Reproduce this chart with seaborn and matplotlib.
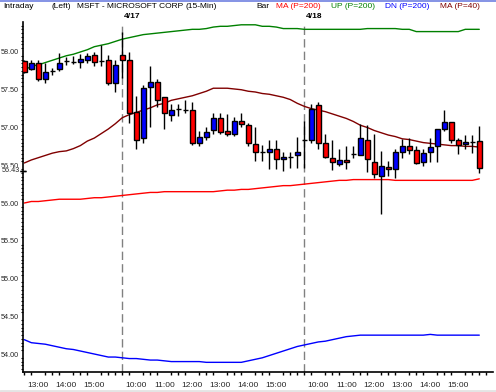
import numpy as np
import pandas as pd
import matplotlib
matplotlib.use("Agg")
import matplotlib.pyplot as plt
from matplotlib.lines import Line2D
from matplotlib.ticker import FixedLocator, MultipleLocator
import seaborn as sns

# 15-min bars: 4/16 12:30-15:45, 4/17 9:30-15:45, 4/18 9:30-15:45
opens = [57.88, 57.78, 57.85, 57.64, 57.75, 57.78, 57.88, 57.87, 57.87, 57.90, 57.96, 57.88, 57.90, 57.59,
         57.96, 57.89, 57.20, 56.86, 57.54, 57.60, 57.40, 57.17, 57.24, 57.23, 57.23, 56.80, 56.88, 56.97,
         57.13, 56.96, 56.92, 57.09, 57.03, 56.78, 56.68, 56.68, 56.72, 56.58, 56.61, 56.64,
         56.83, 56.84, 57.30, 56.79, 56.59, 56.51, 56.57, 56.65, 56.64, 56.83, 56.54, 56.36, 56.48,
         56.45, 56.67, 56.75, 56.70, 56.54, 56.67, 56.75, 56.98, 57.07, 56.83, 56.78, 56.81, 56.82]
highs = [57.90, 57.90, 57.90, 57.85, 57.79, 57.99, 57.93, 57.95, 57.97, 57.98, 58.00, 58.09, 57.96, 57.90,
         58.27, 58.00, 57.42, 57.56, 57.82, 57.64, 57.41, 57.31, 57.31, 57.36, 57.34, 56.95, 57.01, 57.19,
         57.19, 57.18, 57.14, 57.19, 57.06, 57.00, 56.77, 56.83, 56.83, 56.67, 56.67, 56.87,
         57.08, 57.31, 57.34, 56.92, 56.83, 56.72, 56.75, 56.75, 57.04, 57.03, 56.92, 56.69, 56.56,
         56.72, 56.85, 56.86, 56.75, 56.72, 56.86, 56.98, 57.23, 57.07, 56.86, 56.90, 56.90, 57.02]
lows = [57.72, 57.76, 57.61, 57.59, 57.70, 57.75, 57.83, 57.84, 57.79, 57.85, 57.81, 57.81, 57.56, 57.47,
        57.65, 57.06, 56.72, 56.80, 57.01, 57.27, 56.98, 57.08, 57.15, 57.19, 56.77, 56.75, 56.83, 56.91,
        56.91, 56.89, 56.89, 57.00, 56.76, 56.55, 56.56, 56.45, 56.45, 56.42, 56.47, 56.47,
        56.47, 56.79, 56.71, 56.59, 56.44, 56.49, 56.45, 56.59, 56.63, 56.41, 56.33, 55.86, 56.36,
        56.33, 56.59, 56.65, 56.52, 56.49, 56.54, 56.54, 56.95, 56.80, 56.65, 56.71, 56.66, 56.40]
closes = [57.74, 57.86, 57.64, 57.74, 57.75, 57.86, 57.88, 57.87, 57.91, 57.95, 57.87, 57.88, 57.59, 57.83,
          57.90, 57.19, 56.84, 57.52, 57.60, 57.36, 57.19, 57.23, 57.24, 57.23, 56.80, 56.88, 56.94, 57.13,
          56.94, 56.92, 57.09, 57.04, 56.79, 56.68, 56.68, 56.72, 56.58, 56.61, 56.61, 56.67,
          56.83, 57.25, 56.80, 56.61, 56.54, 56.57, 56.54, 56.65, 56.86, 56.58, 56.38, 56.49, 56.45,
          56.67, 56.75, 56.70, 56.53, 56.66, 56.74, 56.98, 57.07, 56.84, 56.77, 56.81, 56.81, 56.47]

ma40 = [56.53, 56.57, 56.60, 56.63, 56.66, 56.68, 56.69, 56.72, 56.76, 56.82, 56.86, 56.92, 56.98, 57.05,
        57.13, 57.17, 57.20, 57.23, 57.26, 57.30, 57.32, 57.36, 57.38, 57.40, 57.42, 57.45, 57.48, 57.52,
        57.52, 57.52, 57.51, 57.50, 57.48, 57.47, 57.45, 57.44, 57.42, 57.40, 57.37, 57.32,
        57.28, 57.25, 57.23, 57.21, 57.18, 57.15, 57.12, 57.08, 57.03, 57.00, 56.96, 56.93, 56.90,
        56.88, 56.85, 56.84, 56.82, 56.80, 56.79, 56.78, 56.77, 56.76, 56.76, 56.75, 56.75, 56.74]
ma200 = [56.00, 56.02, 56.02, 56.03, 56.04, 56.05, 56.05, 56.05, 56.05, 56.06, 56.07, 56.07, 56.08, 56.09,
         56.10, 56.11, 56.12, 56.13, 56.14, 56.14, 56.15, 56.15, 56.15, 56.15, 56.15, 56.15, 56.15, 56.15,
         56.16, 56.17, 56.17, 56.18, 56.18, 56.19, 56.20, 56.21, 56.22, 56.23, 56.23, 56.24,
         56.25, 56.26, 56.27, 56.28, 56.29, 56.30, 56.30, 56.31, 56.31, 56.31, 56.31, 56.31, 56.31,
         56.30, 56.30, 56.30, 56.30, 56.30, 56.30, 56.30, 56.30, 56.30, 56.30, 56.30, 56.30, 56.32]
up200 = [57.76, 57.81, 57.83, 57.86, 57.89, 57.92, 57.95, 57.97, 58.00, 58.03, 58.07, 58.09, 58.11, 58.14,
         58.17, 58.19, 58.21, 58.23, 58.24, 58.25, 58.26, 58.27, 58.28, 58.29, 58.30, 58.30, 58.31, 58.33,
         58.34, 58.34, 58.35, 58.36, 58.36, 58.36, 58.34, 58.34, 58.33, 58.31, 58.31, 58.31,
         58.30, 58.30, 58.30, 58.30, 58.30, 58.30, 58.30, 58.30, 58.30, 58.31, 58.31, 58.31, 58.31,
         58.31, 58.30, 58.30, 58.27, 58.27, 58.27, 58.27, 58.27, 58.27, 58.27, 58.30, 58.30, 58.30]
dn200 = [54.19, 54.15, 54.14, 54.13, 54.11, 54.09, 54.07, 54.06, 54.04, 54.02, 54.00, 53.98, 53.96, 53.96,
         53.95, 53.94, 53.94, 53.93, 53.92, 53.92, 53.91, 53.90, 53.90, 53.90, 53.90, 53.90, 53.89, 53.89,
         53.89, 53.89, 53.89, 53.89, 53.91, 53.93, 53.95, 53.98, 54.01, 54.04, 54.07, 54.10,
         54.12, 54.14, 54.16, 54.17, 54.19, 54.21, 54.23, 54.24, 54.25, 54.25, 54.25, 54.25, 54.25,
         54.25, 54.25, 54.25, 54.25, 54.25, 54.26, 54.25, 54.25, 54.25, 54.25, 54.25, 54.25, 54.25]

hour_labels = ["13:00", "14:00", "15:00",
               "10:00", "11:00", "12:00", "13:00", "14:00", "15:00",
               "10:00", "11:00", "12:00", "13:00", "14:00", "15:00"]
hour_bars = [2, 6, 10, 16, 20, 24, 28, 32, 36, 42, 46, 50, 54, 58, 62]
day_labels = ["4/17", "4/18"]
day_start_bars = [14, 40]
price_ticks = [54.0, 54.5, 55.0, 55.5, 56.0, 56.5, 57.0, 57.5, 58.0]
last_ma_label = 56.43

sns.set_style("white")
plt.rcParams['font.family'] = ['Liberation Sans', 'DejaVu Sans']
plt.rcParams['font.size'] = 6

W, H = 496, 392
fig = plt.figure(figsize=(W / 100, H / 100), dpi=100)
ax = fig.add_axes([23 / W, (H - 372) / H, (493 - 23) / W, (372 - 22) / H])

bars = np.arange(len(opens))
lines = pd.DataFrame({"bar": np.tile(bars, 4),
                      "value": ma200 + up200 + dn200 + ma40,
                      "series": ["ma200"] * len(bars) + ["up"] * len(bars) + ["dn"] * len(bars) + ["ma40"] * len(bars)})
pal = {"ma200": "#ff0000", "up": "#008000", "dn": "#0000ff", "ma40": "#800000"}
sns.lineplot(data=lines, x="bar", y="value", hue="series", palette=pal, legend=False,
             linewidth=1.0, ax=ax, zorder=2)

# day separators
for b in day_start_bars:
    ax.axvline(b, color="#808080", lw=1, ls=(0, (6, 3)), zorder=1)

# candles
o = np.array(opens); c = np.array(closes)
cols = np.where(c > o, "#0000ff", np.where(c < o, "#ff0000", "black"))
ax.vlines(bars, lows, highs, color="black", lw=1, zorder=3)
ax.bar(bars, np.abs(c - o), bottom=np.minimum(o, c), width=0.72, color=cols,
       edgecolor="black", linewidth=1, zorder=4)

ax.set_xlim(-0.19, 66.96)
ax.set_ylim(53.762, 58.397)
ax.set_xlabel("")
ax.set_ylabel("")

ax.xaxis.set_major_locator(FixedLocator(hour_bars))
ax.set_xticklabels(hour_labels)
ax.xaxis.set_minor_locator(FixedLocator(list(range(0, 67))))
ax.set_yticks(price_ticks)
ax.set_yticklabels(["%.2f" % v for v in price_ticks], fontsize=5.2)
ax.yaxis.set_minor_locator(MultipleLocator(0.05))
ax.tick_params(axis="x", which="major", length=3.5, width=1, pad=4, color="black", labelsize=6)
ax.tick_params(axis="x", which="minor", length=2, width=1, color="black", bottom=True)
ax.tick_params(axis="y", which="major", length=2.5, width=1, pad=0.3, color="black")
ax.tick_params(axis="y", which="minor", length=1.2, width=0.8, color="black", left=True)

# current-value marker on the price axis, drawn over the 56.50 label
ax.annotate("%.2f" % last_ma_label, xy=(0, last_ma_label), xycoords=("axes fraction", "data"),
            xytext=(-2.2, 0), textcoords="offset points", ha="right", va="center", fontsize=5.2,
            bbox=dict(boxstyle="square,pad=0.05", fc="white", ec="none"),
            arrowprops=None, annotation_clip=False)
ax.plot([-0.19, -0.19], [last_ma_label, last_ma_label], marker="_", color="black",
        clip_on=False, markersize=4)

for s in ["top", "right"]:
    ax.spines[s].set_visible(False)
for s in ["left", "bottom"]:
    ax.spines[s].set_color("black")
    ax.spines[s].set_linewidth(1.2)

# header
def ftext(x, y, s, color="black", **kw):
    fig.text(x / W, 1 - y / H, s, color=color, va="center", ha="left", fontsize=6, **kw)

ftext(3, 7, "Intraday")
ftext(51, 7, "(Left)")
ftext(77, 7, "MSFT - MICROSOFT CORP")
ftext(185, 7, "(15-Min)")
ftext(256, 7, "Bar")
ftext(276, 7, "MA (P=200)", color="#ff0000")
ftext(331, 7, "UP (P=200)", color="#008000")
ftext(385, 7, "DN (P=200)", color="#0000ff")
ftext(440, 7, "MA (P=40)", color="#800000")
for lab, b in zip(day_labels, day_start_bars):
    ftext(24.3 + 7 * b + 2, 16, lab, fontweight="bold")

fig.add_artist(Line2D([0, 1], [1 - 0.5 / H, 1 - 0.5 / H], color="#7080e0", lw=1.2))
fig.add_artist(Line2D([0, 1], [1 / H, 1 / H], color="#e4e4e4", lw=2))

fig.savefig("out.png", dpi=100)
